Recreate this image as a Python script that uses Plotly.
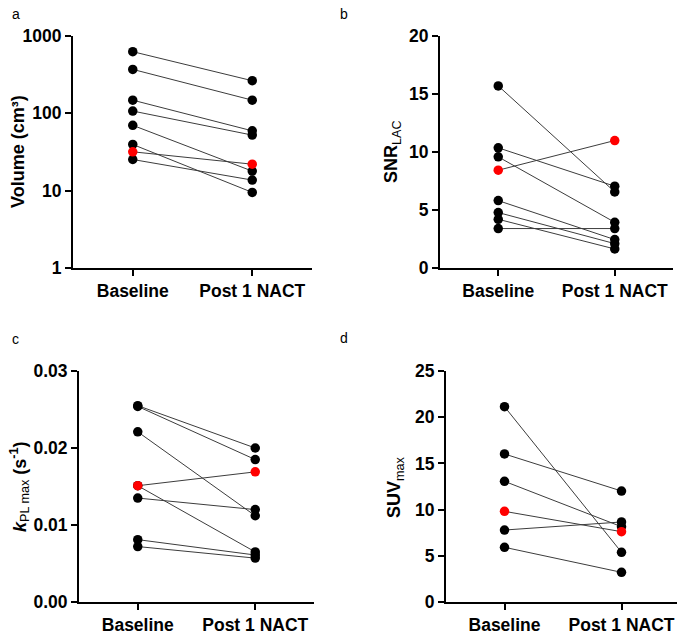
import plotly.graph_objects as go

# Kategorien
groups = ["Baseline", "Post 1 NACT"]

# a: Volumen (cm³)
vol_base = [627, 370, 148, 107, 70, 39.6, 31.8, 25.3]
vol_post = [264, 148, 59.4, 52.3, 17.9, 9.5, 22, 13.7]
vol_red = 6

# b: SNR_LAC
snr_base = [15.7, 10.36, 9.58, 8.43, 5.81, 4.78, 4.2, 3.4]
snr_post = [6.56, 7.05, 3.94, 10.99, 2.45, 2.1, 1.64, 3.4]
snr_red = 3

# c: kPL max
kpl_base = [0.0255, 0.0254, 0.0221, 0.0151, 0.0151, 0.0135, 0.0081, 0.0072]
kpl_post = [0.0200, 0.0185, 0.0112, 0.0169, 0.0065, 0.0120, 0.0061, 0.0057]
kpl_red = 3

# d: SUVmax
suv_base = [21.14, 16.02, 13.06, 9.81, 7.79, 5.92]
suv_post = [5.38, 12.01, 8.15, 7.61, 8.66, 3.21]
suv_red = 3

# Seite 685x633, body hat 8px Rand -> Figur etwas kleiner
OFF = 8
W, H = 685 - OFF, 633 - OFF
FONT = "Liberation Sans, Arial, sans-serif"


def fx(px):
    return (px - OFF) / W


def fy(py):
    return 1 - (py - OFF) / H


panels = [
    # base, post, red, xdomain(px), ydomain(px top,bottom)
    (vol_base, vol_post, vol_red, (73, 312), (36, 268)),
    (snr_base, snr_post, snr_red, (440, 673), (36, 268)),
    (kpl_base, kpl_post, kpl_red, (79, 314), (371, 602)),
    (suv_base, suv_post, suv_red, (446, 680), (371, 602)),
]

fig = go.Figure()

for i, (base, post, red, xd, yd) in enumerate(panels):
    n = "" if i == 0 else str(i + 1)
    xa, ya = "x" + n, "y" + n
    # Verbindungslinien zuerst
    for b, p in zip(base, post):
        fig.add_trace(go.Scatter(
            x=groups, y=[b, p], xaxis=xa, yaxis=ya, mode="lines",
            line=dict(color="#3c3c3c", width=1), showlegend=False, hoverinfo="skip"))
    # schwarze Punkte
    idx = [k for k in range(len(base)) if k != red]
    fig.add_trace(go.Scatter(
        x=[groups[0]] * len(idx) + [groups[1]] * len(idx),
        y=[base[k] for k in idx] + [post[k] for k in idx],
        xaxis=xa, yaxis=ya, mode="markers",
        marker=dict(color="black", size=9.5), showlegend=False, cliponaxis=False))
    # roter Punkt
    fig.add_trace(go.Scatter(
        x=groups, y=[base[red], post[red]], xaxis=xa, yaxis=ya, mode="markers",
        marker=dict(color="red", size=9.5), showlegend=False, cliponaxis=False))

    axis_common = dict(showline=True, linecolor="black", linewidth=2, ticks="outside",
                       tickwidth=2, ticklen=6, tickcolor="black", showgrid=False, zeroline=False,
                       automargin=False,
                       tickfont=dict(family=FONT, size=17.5, color="black", weight="bold"))
    fig.layout["xaxis" + n] = dict(
        axis_common, domain=[fx(xd[0]), fx(xd[1])], anchor=ya,
        type="category", range=[-0.5, 1.5])
    fig.layout["yaxis" + n] = dict(
        axis_common, domain=[fy(yd[1]), fy(yd[0])], anchor=xa)

fig.layout.yaxis.update(type="log", range=[0, 3], tickvals=[1, 10, 100, 1000])
fig.layout.yaxis2.update(range=[0, 20], tickvals=[0, 5, 10, 15, 20])
fig.layout.yaxis3.update(range=[0, 0.03], tickvals=[0, 0.01, 0.02, 0.03], tickformat=".2f")
fig.layout.yaxis4.update(range=[0, 25], tickvals=[0, 5, 10, 15, 20, 25])

# Achsentitel als Annotationen (Position in Seiten-Pixeln)
titles = [
    ("<b>Volume (cm³)</b>", 18, 152),
    ("<b>SNR</b><sub>LAC</sub>", 393, 152),
    ("<b><i>k</i></b><sub>PL max</sub> <b>(s<sup>-1</sup>)</b>", 19, 487),
    ("<b>SUV</b><sub>max</sub>", 395, 487),
]
for txt, px, py in titles:
    fig.add_annotation(text=txt, x=fx(px), y=fy(py), xref="paper", yref="paper",
                       textangle=-90, showarrow=False, xanchor="center", yanchor="middle",
                       font=dict(family=FONT, size=18, color="black"))

letters = [("a", 16, 14), ("b", 344, 14), ("c", 15, 339), ("d", 344, 338)]
for txt, px, py in letters:
    fig.add_annotation(text=txt, x=fx(px), y=fy(py), xref="paper", yref="paper",
                       showarrow=False, xanchor="center", yanchor="middle",
                       font=dict(family=FONT, size=14, color="black"))

fig.update_layout(width=W, height=H, margin=dict(l=0, r=0, t=0, b=0),
                  plot_bgcolor="white", paper_bgcolor="white")

fig.write_html("out.html")
